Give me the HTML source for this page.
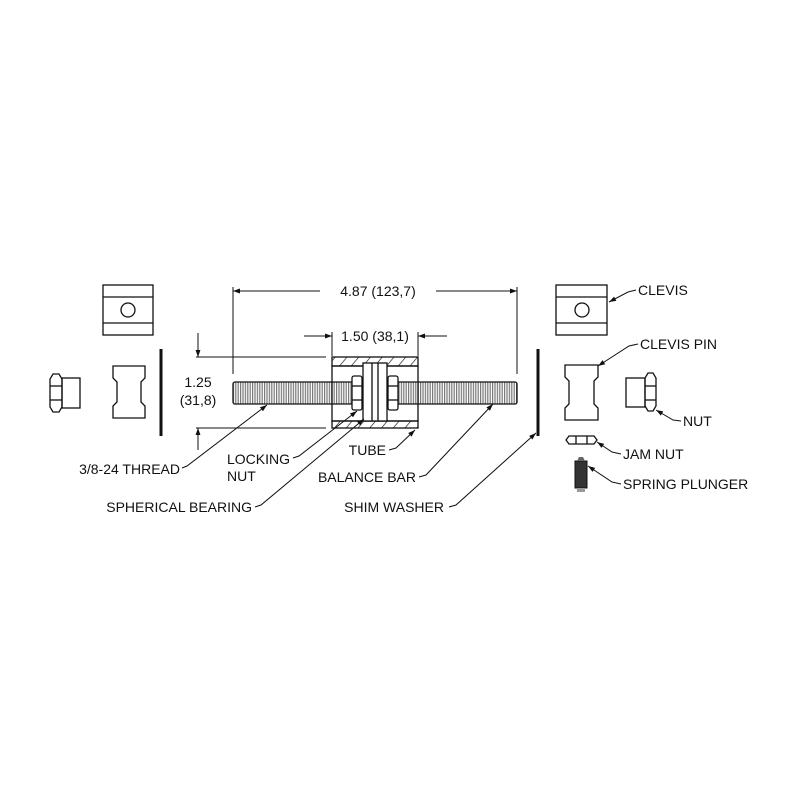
<!DOCTYPE html>
<html><head><meta charset="utf-8"><style>
html,body{margin:0;padding:0;background:#fff;}
svg text{font-family:"Liberation Sans",Arial,sans-serif;font-size:14px;fill:#111;}
</style></head><body>
<svg width="800" height="800" viewBox="0 0 800 800" xmlns="http://www.w3.org/2000/svg">
<defs>
<marker id="a" viewBox="0 0 10 10" refX="10" refY="5" markerWidth="9" markerHeight="7" orient="auto" markerUnits="userSpaceOnUse"><path d="M0,1.5 L10,5 L0,8.5z" fill="#111"/></marker>
<pattern id="th" width="2.4" height="10" patternUnits="userSpaceOnUse"><rect width="2.4" height="10" fill="#fff"/><rect width="1.2" height="10" fill="#777"/></pattern>
<pattern id="hatch" width="9" height="9" patternUnits="userSpaceOnUse" patternTransform="rotate(40)"><rect width="9" height="9" fill="#fff"/><line x1="0" y1="0" x2="0" y2="9" stroke="#111" stroke-width="1.3"/></pattern>
</defs>
<g fill="none" stroke="#111" stroke-width="1.3">
<rect x="103" y="285" width="50" height="50"/>
<line x1="103" y1="297" x2="153" y2="297"/><line x1="103" y1="323" x2="153" y2="323"/>
<circle cx="128" cy="310" r="7"/>
<rect x="62" y="378" width="18" height="30"/>
<path d="M53,374 L59,374 L62,379 L62,407 L59,412 L53,412 L50,407 L50,379 Z"/>
<line x1="50" y1="386" x2="62" y2="386"/><line x1="50" y1="400" x2="62" y2="400"/>
<path d="M113,366 L145,366 L145,378 L141,382 L141,402 L145,406 L145,418 L113,418 L113,406 L117,402 L117,382 L113,378 Z"/>
<path d="M565,365 L598,365 L598,377 L594,381 L594,404 L598,408 L598,420 L565,420 L565,408 L569,404 L569,381 L565,377 Z"/>
<rect x="556" y="285" width="51" height="50"/>
<line x1="556" y1="297" x2="607" y2="297"/><line x1="556" y1="323" x2="607" y2="323"/>
<circle cx="582" cy="310" r="7"/>
<rect x="626" y="378" width="19" height="29"/>
<path d="M648,373 L653,373 L656,378 L656,406 L653,411 L648,411 L645,406 L645,378 Z"/>
<line x1="645" y1="386" x2="656" y2="386"/><line x1="645" y1="400" x2="656" y2="400"/>
<path d="M569,436 L594,436 L597,440 L594,444 L569,444 L566,440 Z"/>
<line x1="576" y1="436" x2="576" y2="444"/><line x1="587" y1="436" x2="587" y2="444"/>
</g>
<rect x="575" y="461" width="12" height="27" fill="#333" stroke="#111"/>
<path d="M577,461 L579,457 L583,457 L585,461Z" fill="#666"/>
<rect x="577" y="488" width="8" height="4" fill="#999"/>
<line x1="161" y1="349" x2="161" y2="436" stroke="#111" stroke-width="3"/>
<line x1="538" y1="349" x2="538" y2="436" stroke="#111" stroke-width="3"/>
<rect x="233" y="382" width="284" height="22" rx="2" fill="url(#th)" stroke="#111" stroke-width="1.3"/>
<rect x="332" y="357" width="86" height="9" fill="url(#hatch)" stroke="#111" stroke-width="1.3"/>
<rect x="332" y="421" width="86" height="7" fill="url(#hatch)" stroke="#111" stroke-width="1.3"/>
<g fill="#fff" stroke="#111" stroke-width="1.3">
<rect x="332" y="366" width="86" height="55" fill="none"/>
<rect x="363" y="363" width="24" height="58"/>
<line x1="372" y1="363" x2="372" y2="421"/><line x1="378" y1="363" x2="378" y2="421"/>
<rect x="352" y="376" width="10" height="34" rx="2"/>
<line x1="352" y1="386" x2="362" y2="386"/><line x1="352" y1="400" x2="362" y2="400"/>
<rect x="388" y="376" width="10" height="34" rx="2"/>
<line x1="388" y1="386" x2="398" y2="386"/><line x1="388" y1="400" x2="398" y2="400"/>
</g>
<g stroke="#111" stroke-width="1" fill="none">
<line x1="233" y1="287" x2="233" y2="374"/><line x1="517" y1="287" x2="517" y2="374"/>
<line x1="320" y1="291" x2="233" y2="291" marker-end="url(#a)"/>
<line x1="436" y1="291" x2="517" y2="291" marker-end="url(#a)"/>
<line x1="332" y1="332" x2="332" y2="356"/><line x1="418" y1="332" x2="418" y2="356"/>
<line x1="304" y1="336" x2="332" y2="336" marker-end="url(#a)"/>
<line x1="447" y1="336" x2="418" y2="336" marker-end="url(#a)"/>
<line x1="196" y1="357" x2="326" y2="357"/><line x1="196" y1="428" x2="326" y2="428"/>
<line x1="198" y1="333" x2="198" y2="357" marker-end="url(#a)"/>
<line x1="198" y1="450" x2="198" y2="428" marker-end="url(#a)"/>
<polyline points="182,468 187,466 267,405" marker-end="url(#a)"/>
<polyline points="293,458 299,456 357,411" marker-end="url(#a)"/>
<polyline points="255,507 261,505 364,419" marker-end="url(#a)"/>
<polyline points="389,450 396,448 415,430" marker-end="url(#a)"/>
<polyline points="419,477 426,475 493,404" marker-end="url(#a)"/>
<polyline points="449,507 456,505 536,433" marker-end="url(#a)"/>
<polyline points="636,290 628,292 609,302" marker-end="url(#a)"/>
<polyline points="638,344 629,346 598,366" marker-end="url(#a)"/>
<polyline points="681,421 673,420 656,410" marker-end="url(#a)"/>
<polyline points="621,454 612,452 597,442" marker-end="url(#a)"/>
<polyline points="621,484 612,482 588,466" marker-end="url(#a)"/>
</g>
<rect x="322" y="283" width="112" height="16" fill="#fff"/>
<text x="378" y="296" text-anchor="middle">4.87 (123,7)</text>
<text x="375" y="341" text-anchor="middle">1.50 (38,1)</text>
<text x="198" y="387" text-anchor="middle">1.25</text>
<text x="198" y="405" text-anchor="middle">(31,8)</text>
<text x="180" y="474" text-anchor="end">3/8-24 THREAD</text>
<text x="227" y="464">LOCKING</text>
<text x="227" y="481">NUT</text>
<text x="252" y="512" text-anchor="end">SPHERICAL BEARING</text>
<text x="386" y="455" text-anchor="end">TUBE</text>
<text x="416" y="482" text-anchor="end">BALANCE BAR</text>
<text x="444" y="512" text-anchor="end">SHIM WASHER</text>
<text x="638" y="295">CLEVIS</text>
<text x="640" y="349">CLEVIS PIN</text>
<text x="683" y="426">NUT</text>
<text x="623" y="459">JAM NUT</text>
<text x="623" y="489">SPRING PLUNGER</text>
</svg>
</body></html>
